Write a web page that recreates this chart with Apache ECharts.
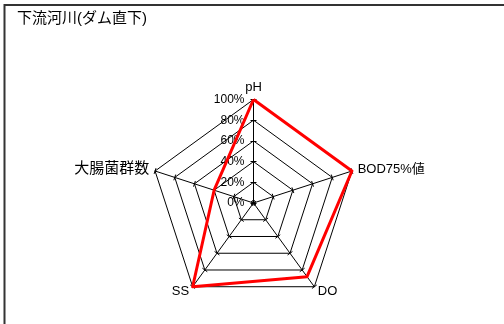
<!DOCTYPE html>
<html>
<head>
<meta charset="utf-8">
<script src="https://cdn.jsdelivr.net/npm/echarts@6/dist/echarts.min.js"></script>
<style>
html, body { margin: 0; padding: 0; background: #fff; }
#main { width: 504px; height: 324px; }
</style>
</head>
<body>
<div id="main"></div>
<script>
// 指標（上から反時計回り）
const indicatorNames = ['pH', '大腸菌群数', 'SS', 'DO', 'BOD75%値'];
const values = [100, 40, 100, 88, 100];
const axisMin = 0, axisMax = 100, axisSplit = 5;
const titleText = '下流河川(ダム直下)';

const fontFamily = '"Liberation Sans", "Noto Sans CJK JP", sans-serif';
const center = [253.5, 203];
const radius = 103.5;

let myChart = echarts.init(document.getElementById('main'));

let indicators = [];
for (let name of indicatorNames) indicators.push({ name: name, min: axisMin, max: axisMax });

let baseRadar = {
    center: center,
    radius: radius,
    startAngle: 90,
    shape: 'polygon',
    splitNumber: axisSplit,
    splitArea: { show: false },
};

let option = {
    backgroundColor: '#fff',
    animation: false,
    title: {
        text: titleText,
        left: 12,
        top: 6,
        textStyle: { fontSize: 15, fontWeight: 'normal', color: '#000', fontFamily: fontFamily },
    },
    graphic: [{
        type: 'rect',
        shape: { x: 4.5, y: 5, width: 700, height: 500 },
        style: { fill: 'none', stroke: '#333', lineWidth: 2 },
        silent: true,
    }],
    radar: [
        Object.assign({}, baseRadar, {
            indicator: indicators,
            axisName: {
                color: '#000',
                fontSize: 13,
                fontFamily: fontFamily,
                // 全角だけの名前は少し大きく
                formatter: function (name) {
                    return /^[\u3000-\u9fff]+$/.test(name) ? '{c|' + name + '}' : name;
                },
                rich: { c: { fontSize: 15, color: '#000', fontFamily: fontFamily } },
            },
            nameGap: 6,
            axisLine: { lineStyle: { color: '#000', width: 1 } },
            splitLine: { lineStyle: { color: '#000', width: 1 } },
            axisTick: { show: true, length: 3, lineStyle: { color: '#000' } },
        }),
        // 目盛の反対側
        Object.assign({}, baseRadar, {
            indicator: indicators,
            axisName: { show: false },
            axisLine: { show: false },
            splitLine: { show: false },
            axisTick: { show: true, length: -3, lineStyle: { color: '#000' } },
        }),
        // pH軸だけにラベル
        Object.assign({}, baseRadar, {
            indicator: [indicators[0]],
            axisName: { show: false },
            axisLine: { show: false },
            splitLine: { show: false },
            axisTick: { show: false },
            axisLabel: {
                show: true,
                color: '#000',
                fontSize: 12,
                fontFamily: fontFamily,
                margin: 9,
                formatter: '{value}%',
            },
        }),
    ],
    series: [{
        type: 'radar',
        radarIndex: 0,
        symbol: 'none',
        lineStyle: { color: '#ff0000', width: 3 },
        data: [{ value: values }],
    }],
};
myChart.setOption(option);
</script>
</body>
</html>
